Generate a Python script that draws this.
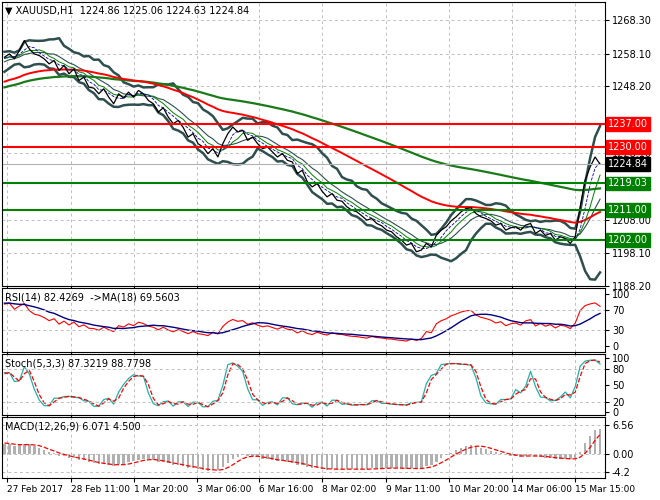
import numpy as np, pandas as pd, seaborn as sns, matplotlib
matplotlib.use("Agg")
import matplotlib.pyplot as plt

prior_closes = [1236,1238,1237,1239,1241,1240,1242,1241,1243,1242,1244,1243,1245,1244,1246,
 1245,1247,1246,1248,1249,1250,1251,1252,1253,1254,1255,1256,1257,1256,1257]
closes = [1257,1258,1256.5,1259,1262,1259.5,1258,1257.5,1256.5,
 1255,1256,1253,1254.5,1252,1253.5,1250,1251,1248,1247.7,
 1246,1247.5,1245,1243,1246,1244.7,1246.5,1245,1247,1246,
 1244,1243,1240.5,1241.8,1239,1237,1238,1235.9,1233,1234,1231,1230,
 1228,1229.5,1227,1231,1234,1236,1234.5,1235,1232,1233,
 1231,1229.5,1230,1228.5,1227,1228,1226,1225.5,1222,1223,1219.6,
 1218,1219,1216.7,1215,1216,1214,1213.7,1212,1211,1210.5,1209.3,
 1208,1208.5,1207,1206.3,1205,1204.5,1203,1202,1200.5,1201,1198.5,1199,
 1201,1200,1203.4,1205,1206,1207.8,1209,1210.5,1211.5,1211.7,
 1210,1209,1208.5,1207.8,1206.5,1207,1205,1205.7,1206,1205,1206.5,1207,
 1204,1205,1203.4,1204,1202,1203,1202.5,1201,1203,1212,1220,1224,1227,1224.84]
red_levels = [1237.00, 1230.00]
green_levels = [1219.03, 1211.00, 1202.00]
main_ticks = [1268.30, 1258.10, 1248.20, 1228.10, 1208.00, 1198.10, 1188.20]
date_labels = ["27 Feb 2017","28 Feb 11:00","1 Mar 20:00","3 Mar 06:00","6 Mar 16:00",
               "8 Mar 02:00","9 Mar 11:00","10 Mar 20:00","14 Mar 06:00","15 Mar 15:00"]
date_pos = [0.6,13.4,26,38.8,51.2,64,76.8,89.6,102.2,115]

n0 = len(prior_closes)
full = pd.Series(prior_closes + closes, dtype=float)
def cut(s): return s.iloc[n0:].reset_index(drop=True)
c = cut(full); x = np.arange(len(c)) * 1.0
bb_m = cut(full.rolling(8).mean()); bb_s = cut(full.rolling(8).std())
ma_red = cut(full.ewm(span=40).mean()); ma_green = cut(full.ewm(span=110).mean())
ma5 = cut(full.rolling(3).mean()); ma10 = cut(full.rolling(5).mean())
d = full.diff().fillna(0); up = d.clip(lower=0).ewm(alpha=1/10).mean(); dn = (-d.clip(upper=0)).ewm(alpha=1/10).mean()
rsi_f = 100 - 100/(1+up/(dn+1e-9)); rsi = cut(rsi_f); rsi_ma = cut(rsi_f.rolling(8).mean())
hh = full.rolling(5).max()+0.8; ll = full.rolling(5).min()-0.8
k_f = (100*(full-ll)/(hh-ll)).rolling(2).mean(); k = cut(k_f); dd = cut(k_f.rolling(2).mean())
macd_f = full.ewm(span=6).mean()-full.ewm(span=13).mean(); macd = cut(macd_f); sig = cut(macd_f.rolling(4).mean())

fig = plt.figure(figsize=(6.6,5.0), dpi=100)
L, W = 2/660, 603/660
axm = fig.add_axes([L,0.428,W,0.568]); axr = fig.add_axes([L,0.296,W,0.128])
axs = fig.add_axes([L,0.170,W,0.122]); axd = fig.add_axes([L,0.044,W,0.122])
for a in (axm,axr,axs,axd):
    a.set_xlim(-0.5, 121)
    a.yaxis.tick_right(); a.tick_params(labelsize=7, length=3, direction='out', pad=2)
    for sp in a.spines.values(): sp.set_linewidth(0.8)
    a.set_xticks(date_pos); a.grid(axis='both', ls=(0,(3,3)), color='#c0c0c0', lw=0.7)
    a.set_xticklabels([])
axd.set_xticklabels(date_labels, fontsize=6.5, ha='left')

kw = dict(ax=axm, legend=False)
for s in (bb_m+2*bb_s, bb_m-2*bb_s):
    sns.lineplot(x=x, y=s.values, color='#2f4f4f', lw=1.8, **kw)
sns.lineplot(x=x, y=bb_m.values, color='#2f4f4f', lw=0.8, **kw)
sns.lineplot(x=x, y=ma_green.values, color='#1a7a1a', lw=1.6, **kw)
sns.lineplot(x=x, y=ma_red.values, color='#ff0000', lw=1.4, **kw)
sns.lineplot(x=x, y=ma10.values, color='#008000', lw=0.7, **kw)
sns.lineplot(x=x, y=ma5.values, color='#0000a0', lw=0.6, ls='--', **kw)
sns.lineplot(x=x, y=c.values, color='black', lw=0.9, **kw)
axm.set_ylim(1188.6, 1273.6)
axm.set_yticks(main_ticks); axm.set_yticklabels([f"{v:.2f}" for v in main_ticks])
axm.axhline(closes[-1], color='#b0b0b0', lw=0.8)
tr = axm.get_yaxis_transform()
def box(v, fc):
    axm.text(1.005, v, f"{v:.2f}", transform=tr, fontsize=7, color='white', va='center', zorder=5,
             bbox=dict(boxstyle='square,pad=0.2', fc=fc, ec=fc), clip_on=False)
for v in red_levels: axm.axhline(v, color='red', lw=1.5); box(v,'red')
for v in green_levels: axm.axhline(v, color='green', lw=1.5); box(v,'green')
box(closes[-1], 'black')
axm.text(0.005, 0.985, "▼ XAUUSD,H1  1224.86 1225.06 1224.63 1224.84", transform=axm.transAxes, fontsize=7, va='top')

sns.lineplot(x=x, y=rsi.values, ax=axr, color='red', lw=0.8)
sns.lineplot(x=x, y=rsi_ma.values, ax=axr, color='#000080', lw=1.0)
axr.set_ylim(-12,112); axr.set_yticks([0,30,70,100]); axr.grid(False); axr.grid(axis='x', ls=(0,(3,3)), color='#c0c0c0', lw=0.7)
for v in (30,70): axr.axhline(v, ls=(0,(3,3)), color='#c0c0c0', lw=0.7)
axr.text(0.005,0.93,"RSI(14) 82.4269  ->MA(18) 69.5603", transform=axr.transAxes, fontsize=7, va='top')

sns.lineplot(x=x, y=k.values, ax=axs, color='#20b2aa', lw=0.9)
sns.lineplot(x=x, y=dd.values, ax=axs, color='red', lw=0.9, ls='--')
axs.set_ylim(-5,108); axs.set_yticks([0,20,50,80,100]); axs.grid(False); axs.grid(axis='x', ls=(0,(3,3)), color='#c0c0c0', lw=0.7)
for v in (20,80): axs.axhline(v, ls=(0,(3,3)), color='#c0c0c0', lw=0.7)
axs.text(0.005,0.93,"Stoch(5,3,3) 87.3219 88.7798", transform=axs.transAxes, fontsize=7, va='top')

axd.bar(x, macd.values, width=0.5, color='#b0b0b0')
sns.lineplot(x=x, y=sig.values, ax=axd, color='red', lw=0.9, ls='--')
axd.set_ylim(-5.5, 8.5); axd.set_yticks([-4.2,0,6.56]); axd.set_yticklabels(["-4.2","0.00","6.56"])
axd.text(0.005,0.93,"MACD(12,26,9) 6.071 4.500", transform=axd.transAxes, fontsize=7, va='top')
fig.savefig("out.png", dpi=100)
